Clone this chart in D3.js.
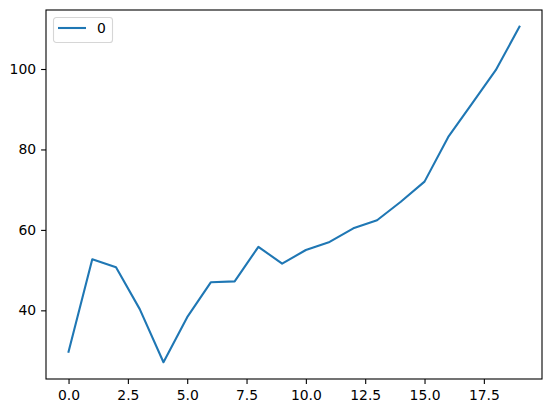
<!DOCTYPE html>
<html>
<head>
<meta charset="utf-8">
<script src="https://cdn.jsdelivr.net/npm/d3@7"></script>
<style>
    body { margin: 0; background: #fff; }
    svg { display: block; }
    svg text { font-family: "DejaVu Sans", sans-serif; font-size: 13.9px; fill: #000; }
</style>
</head>
<body>
<div id="chart"></div>
<script>
// series "0", one value per integer index
var xValues = [0, 1, 2, 3, 4, 5, 6, 7, 8, 9, 10, 11, 12, 13, 14, 15, 16, 17, 18, 19];
var yValues = [29.7, 52.7, 50.7, 40.3, 27.1, 38.3, 47.0, 47.2, 55.8, 51.6,
               55.0, 57.0, 60.4, 62.4, 67.0, 72.0, 83.1, 91.4, 99.7, 110.5];
var xTicks = [0, 2.5, 5, 7.5, 10, 12.5, 15, 17.5];
var yTicks = [40, 60, 80, 100];
var seriesName = "0";

var W = 552, H = 413;
var margin = { top: 10, right: 10, bottom: 34, left: 46 };
var width = W - margin.left - margin.right,
    height = H - margin.top - margin.bottom;

var svg = d3.select("#chart").append("svg")
    .attr("width", W)
    .attr("height", H);

var g = svg.append("g")
    .attr("transform", "translate(" + margin.left + "," + margin.top + ")");

// matplotlib style 5% margins
var xmin = d3.min(xValues), xmax = d3.max(xValues);
var ymin = d3.min(yValues), ymax = d3.max(yValues);
var xpad = (xmax - xmin) * 0.05, ypad = (ymax - ymin) * 0.05;

var x = d3.scaleLinear().domain([xmin - xpad, xmax + xpad]).range([0, width]);
var y = d3.scaleLinear().domain([ymin - ypad, ymax + ypad]).range([height, 0]);

var xAxis = g.append("g")
    .attr("transform", "translate(0," + height + ")")
    .call(d3.axisBottom(x).tickValues(xTicks).tickSize(4.9).tickPadding(6.5)
        .tickFormat(d3.format(".1f")));

var yAxis = g.append("g")
    .call(d3.axisLeft(y).tickValues(yTicks).tickSize(4.9).tickPadding(5)
        .tickFormat(d3.format("d")));

[xAxis, yAxis].forEach(function (a) {
    a.attr("font-size", null).attr("font-family", null);
    a.select(".domain").remove();
    a.selectAll("line").attr("stroke", "#000").attr("stroke-width", 1.1);
});

var data = xValues.map(function (d, i) { return { x: d, y: yValues[i] }; });

var line = d3.line()
    .x(function (d) { return x(d.x); })
    .y(function (d) { return y(d.y); });

g.append("path")
    .datum(data)
    .attr("fill", "none")
    .attr("stroke", "#1f77b4")
    .attr("stroke-width", 2.1)
    .attr("stroke-linejoin", "round")
    .attr("stroke-linecap", "square")
    .attr("d", line);

// frame
g.append("rect")
    .attr("x", 0).attr("y", 0)
    .attr("width", width).attr("height", height)
    .attr("fill", "none")
    .attr("stroke", "#000")
    .attr("stroke-width", 1.1);

// legend
var legend = g.append("g").attr("transform", "translate(7.5,7.5)");
legend.append("rect")
    .attr("width", 59).attr("height", 25)
    .attr("rx", 2.8)
    .attr("fill", "#fff")
    .attr("fill-opacity", 0.8)
    .attr("stroke", "#d6d6d6")
    .attr("stroke-width", 1.1);
legend.append("line")
    .attr("x1", 4.5).attr("x2", 32.5)
    .attr("y1", 10.5).attr("y2", 10.5)
    .attr("stroke", "#1f77b4")
    .attr("stroke-width", 2.1);
legend.append("text")
    .attr("x", 43.5).attr("y", 15.8)
    .text(seriesName);
</script>
</body>
</html>
